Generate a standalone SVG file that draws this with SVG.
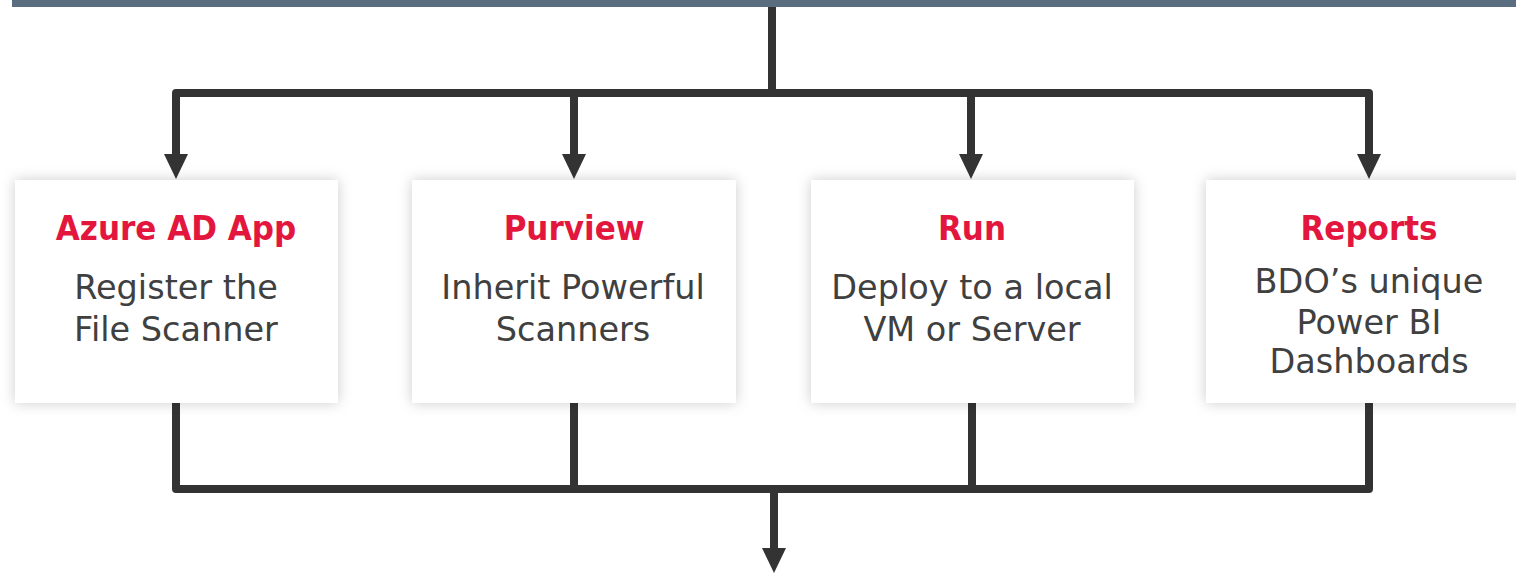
<svg xmlns="http://www.w3.org/2000/svg" width="1516" height="573" viewBox="0 0 1516 573">
<style>
.box{fill:#ffffff;filter:url(#sh)}
.ttl{font-family:"DejaVu Sans Condensed","DejaVu Sans",sans-serif;font-stretch:condensed;font-weight:bold;font-size:34.5px;fill:#E3173E;text-anchor:middle}
.txt{font-family:"DejaVu Sans",sans-serif;font-size:33.5px;fill:#404040;text-anchor:middle}
.ln{fill:none;stroke:#333333;stroke-width:8;stroke-linejoin:round}
</style>
<defs>
<filter id="sh" x="-10%" y="-10%" width="120%" height="120%">
<feDropShadow dx="0" dy="0" stdDeviation="7" flood-color="#000000" flood-opacity="0.2"/>
</filter>
<marker id="ah" markerUnits="userSpaceOnUse" markerWidth="25" markerHeight="24" viewBox="0 0 25 24" refX="0" refY="12" orient="auto">
<path d="M0,0 L25,12 L0,24 z" fill="#333333"/>
</marker>
</defs>
<rect x="12" y="0" width="1504" height="7" fill="#5B6E80"/>
<g id="connectors">
<path class="ln" d="M772,7 V93"/>
<path class="ln" d="M176,154 V93 H1369 V154" marker-end="url(#ah)"/>
<path class="ln" d="M176,93 V154" marker-end="url(#ah)"/>
<path class="ln" d="M574,93 V154" marker-end="url(#ah)"/>
<path class="ln" d="M971,93 V154" marker-end="url(#ah)"/>
<path class="ln" d="M176,403 V489 H1369 V403"/>
<path class="ln" d="M574,403 V489"/>
<path class="ln" d="M972,403 V489"/>
<path class="ln" d="M774,489 V548" marker-end="url(#ah)"/>
</g>
<g id="node-azure">
<rect class="box" x="15" y="180" width="323" height="223"/>
<text class="ttl" x="176" y="240">Azure AD App</text>
<text class="txt" x="176" y="299">Register the</text>
<text class="txt" x="176" y="341">File Scanner</text>
</g>
<g id="node-purview">
<rect class="box" x="412" y="180" width="324" height="223"/>
<text class="ttl" x="574" y="240">Purview</text>
<text class="txt" x="573" y="299">Inherit Powerful</text>
<text class="txt" x="573" y="341">Scanners</text>
</g>
<g id="node-run">
<rect class="box" x="811" y="180" width="323" height="223"/>
<text class="ttl" x="972" y="240">Run</text>
<text class="txt" x="972" y="299">Deploy to a local</text>
<text class="txt" x="972" y="341">VM or Server</text>
</g>
<g id="node-reports">
<rect class="box" x="1206" y="180" width="324" height="223"/>
<text class="ttl" x="1369" y="240">Reports</text>
<text class="txt" x="1369" y="293">BDO’s unique</text>
<text class="txt" x="1369" y="334">Power BI</text>
<text class="txt" x="1369" y="373">Dashboards</text>
</g>
</svg>
